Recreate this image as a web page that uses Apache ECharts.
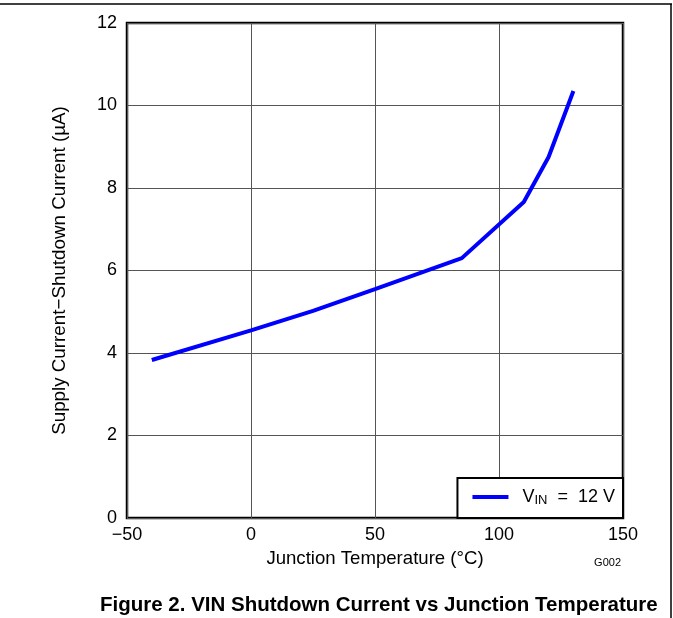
<!DOCTYPE html>
<html>
<head>
<meta charset="utf-8">
<script src="https://cdn.jsdelivr.net/npm/echarts@6/dist/echarts.min.js"></script>
<style>
html,body{margin:0;padding:0;background:#fff;}
#c{width:673px;height:618px;}
</style>
</head>
<body>
<div id="c"></div>
<script>
const temperatures = [-40, 0, 25, 50, 85, 110, 120, 130];
const currents = [3.83, 4.55, 5.02, 5.55, 6.30, 7.66, 8.75, 10.35];
const seriesName = 'VIN = 12 V';
const xTitle = 'Junction Temperature (°C)';
const yTitle = 'Supply Current\u2212Shutdown Current (\u00B5A)';
const figTitle = 'Figure 2. VIN Shutdown Current vs Junction Temperature';

const chart = echarts.init(document.getElementById('c'), null, {renderer: 'canvas'});
const font = 'Liberation Sans, Arial, sans-serif';
chart.setOption({
  animation: false,
  backgroundColor: '#fff',
  textStyle: {fontFamily: font},
  grid: {left: 127, right: 50, top: 23, bottom: 100, show: true, borderColor: '#000', borderWidth: 2.5},
  xAxis: {
    type: 'value', min: -50, max: 150, interval: 50,
    axisLine: {show: false}, axisTick: {show: false},
    splitLine: {lineStyle: {color: '#555', width: 1}},
    axisLabel: {color: '#000', fontSize: 18, fontFamily: font, margin: 8,
      formatter: v => v < 0 ? '\u2212' + Math.abs(v) : String(v)},
    name: xTitle, nameLocation: 'middle', nameGap: 31,
    nameTextStyle: {color: '#000', fontSize: 18.6, fontFamily: font}
  },
  yAxis: {
    type: 'value', min: 0, max: 12, interval: 2,
    axisLine: {show: false}, axisTick: {show: false},
    splitLine: {lineStyle: {color: '#555', width: 1}},
    axisLabel: {color: '#000', fontSize: 18, fontFamily: font, margin: 10},
    name: yTitle, nameLocation: 'middle', nameGap: 58,
    nameTextStyle: {color: '#000', fontSize: 18.8, fontFamily: font}
  },
  legend: {
    show: true,
    right: 50, bottom: 100,
    backgroundColor: '#fff',
    borderColor: '#000', borderWidth: 2,
    padding: [10, 8, 11, 15],
    itemWidth: 36, itemHeight: 4, itemGap: 0,
    icon: 'rect',
    data: [{name: seriesName, itemStyle: {color: '#0000FF'}}],
    formatter: () => 'V{sub|IN}  =  12 V',
    textStyle: {color: '#000', fontSize: 18, fontFamily: font, padding: [0, 0, 0, 9],
      rich: {sub: {fontSize: 13, verticalAlign: 'bottom', padding: [7, 0, 0, 0], fontFamily: font}}}
  },
  series: [{
    name: seriesName,
    type: 'line',
    data: temperatures.map((t, i) => [t, currents[i]]),
    showSymbol: false,
    lineStyle: {color: '#0000FF', width: 4},
    itemStyle: {color: '#0000FF'}
  }],
  graphic: [
    {type: 'line', shape: {x1: 0, y1: 4, x2: 672, y2: 4}, style: {stroke: '#000', lineWidth: 1.5}},
    {type: 'line', shape: {x1: 671, y1: 4, x2: 671, y2: 618}, style: {stroke: '#000', lineWidth: 1.5}},
    {type: 'text', right: 52, top: 557, style: {text: 'G002', fontSize: 11, fill: '#000', fontFamily: font}},
    {type: 'text', left: 100, top: 595, style: {text: figTitle, fontSize: 20.5, fontWeight: 'bold', fill: '#000', fontFamily: font}}
  ]
});
</script>
</body>
</html>
